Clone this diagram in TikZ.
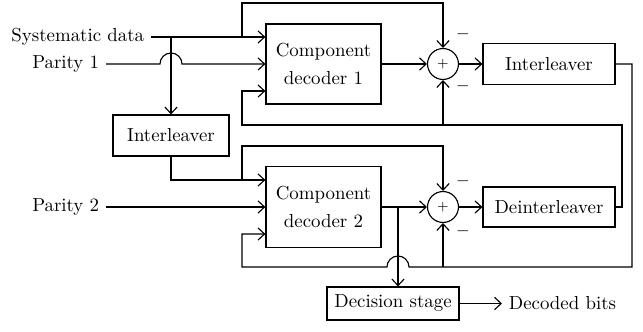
\documentclass[tikz,border=0pt]{standalone}
\usetikzlibrary{arrows.meta,calc}
\begin{document}
\begin{tikzpicture}[x=0.53pt, y=0.53pt, line width=0.6pt,
        >={Straight Barb[length=3.5pt,width=6.5pt]},
        box/.style={draw, align=center, inner sep=2pt},
        adder/.style={draw, circle, minimum size=16.4pt, inner sep=0pt, font=\scriptsize},
        sign/.style={inner sep=0pt, font=\small}]
    \useasboundingbox (0,0) rectangle (643,-332);

    % blocks
    \node[box, minimum width=61pt, minimum height=42.4pt] (dec1) at (323.5,-64) {Component\\[3pt]decoder 1};
    \node[box, minimum width=61pt, minimum height=42.9pt] (dec2) at (323.5,-207) {Component\\[3pt]decoder 2};
    \node[box, minimum width=61.5pt, minimum height=21.7pt] (int1) at (171,-135.5) {Interleaver};
    \node[box, minimum width=70pt, minimum height=21.7pt] (int2) at (549,-64) {Interleaver};
    \node[box, minimum width=70pt, minimum height=21.2pt] (deint) at (549,-207) {Deinterleaver};
    \node[box, minimum width=70pt, minimum height=17.5pt] (dec) at (393,-303.5) {Decision stage};
    \node[adder] (sum1) at (443,-64) {$+$};
    \node[adder] (sum2) at (443,-207) {$+$};

    % signs at the adders
    \node[sign] (m1a) at (463,-34) {$-$};
    \node[sign] (m1b) at (463,-86) {$-$};
    \node[sign] (m2a) at (463,-181) {$-$};
    \node[sign] (m2b) at (463,-231) {$-$};

    % inputs and output
    \node[anchor=east] (sys) at (151,-37) {Systematic data};
    \node[anchor=east] (par1) at (106,-64) {Parity 1};
    \node[anchor=east] (par2) at (106,-207) {Parity 2};
    \node[anchor=west] (out) at (502,-303.5) {Decoded bits};

    % branch points and corners
    \coordinate (sp) at (171,-37);
    \coordinate (sq) at (242,-37);
    \coordinate (top1) at (443,-3);
    \coordinate (sr) at (242,-180);
    \coordinate (top2) at (443,-146);
    \coordinate (loopA) at (622,-125);
    \coordinate (loopAL) at (242,-125);
    \coordinate (loopB) at (632,-267);
    \coordinate (loopBL) at (242,-267);
    \coordinate (tap) at (398,-207);
    \coordinate (d1c) at ($(dec1.west)+(0,-27)$);
    \coordinate (d2a) at ($(dec2.west)+(0,27)$);
    \coordinate (d2c) at ($(dec2.west)+(0,-27)$);

    % first decoder
    \draw[->] (sys) -- (sys -| dec1.west);
    \draw[->] (sp) -- (int1.north);
    \draw[->] (par1) -- ($(sp |- par1)+(-11,0)$) arc[start angle=180, end angle=0, radius=11] -- (par1 -| dec1.west);
    \draw[->] (sq) |- (top1) -- (sum1.north);
    \draw[->] (dec1) -- (sum1);
    \draw[->] (sum1) -- (int2);
    \draw[->] (deint.east) -| (loopA) -- (loopAL) |- (d1c);
    \draw[->] (sum1 |- loopA) -- (sum1.south);

    % second decoder
    \draw[->] (int1.south) |- (d2a);
    \draw[->] (sr) |- (top2) -- (sum2.north);
    \draw[->] (par2) -- (par2 -| dec2.west);
    \draw[->] (dec2) -- (sum2);
    \draw[->] (sum2) -- (deint);
    \draw[->] (int2.east) -| (loopB) -- ($(tap |- loopB)+(11,0)$) arc[start angle=0, end angle=180, radius=11] -- (loopBL) |- (d2c);
    \draw[->] (sum2 |- loopB) -- (sum2.south);

    % decision
    \draw[->] (tap) -- (tap |- dec.north);
    \draw[->] (dec) -- (out);
\end{tikzpicture}
\end{document}
